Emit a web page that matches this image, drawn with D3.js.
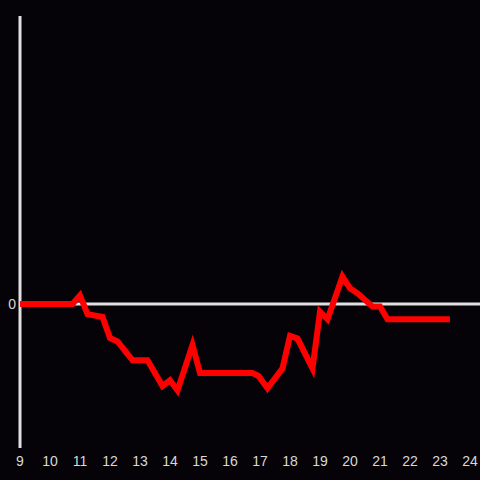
<!DOCTYPE html>
<meta charset="utf-8">
<style>
    body { margin: 0; background: #050307; overflow: hidden; }
    text { font-family: "Liberation Sans", Arial, sans-serif; font-size: 14px; fill: #d8d8d8; }
</style>
<svg id="canvas" width="480" height="480"></svg>
<script src="https://d3js.org/d3.v7.min.js"></script>
<script>

    // hour of day, relative value
    var hours  = [9, 10.75, 11, 11.25, 11.75, 12, 12.25, 12.75, 13.25, 13.75, 14, 14.25, 14.75, 15, 16.75, 16.95, 17.25, 17.75, 18, 18.25, 18.75, 19, 19.25, 19.75, 20, 20.25, 20.75, 21, 21.25, 23.33];
    var values = [0, 0, 0.06, -0.07, -0.09, -0.236, -0.26, -0.39, -0.39, -0.57, -0.53, -0.6, -0.285, -0.48, -0.48, -0.5, -0.585, -0.447, -0.222, -0.24, -0.447, -0.053, -0.106, 0.19, 0.109, 0.074, -0.018, -0.018, -0.106, -0.106];
    var xTicks = d3.range(9, 25);
    var yTicks = [0];

    var svg = d3.select("svg");
    svg.append("rect").attr("width", 480).attr("height", 480).attr("fill", "#050307");

    var x = d3.scaleLinear().domain([9, 24]).range([20, 470]);
    var y = d3.scaleLinear().domain([-1, 2]).range([448, 16]);

    // axis lines
    svg.append("line")
       .attr("x1", x(9)).attr("x2", x(9))
       .attr("y1", y(2)).attr("y2", y(-1))
       .attr("stroke", "#e0e0e0").attr("stroke-width", 3);

    svg.append("line")
       .attr("x1", x(9)).attr("x2", 480)
       .attr("y1", y(0)).attr("y2", y(0))
       .attr("stroke", "#e0e0e0").attr("stroke-width", 3);

    svg.append("g").selectAll("text")
       .data(xTicks)
       .enter().append("text")
       .attr("x", function(d) { return x(d); })
       .attr("y", 466)
       .attr("text-anchor", "middle")
       .text(function(d) { return d; });

    svg.append("g").selectAll("text")
       .data(yTicks)
       .enter().append("text")
       .attr("x", 16)
       .attr("y", function(d) { return y(d) + 5; })
       .attr("text-anchor", "end")
       .text(function(d) { return d; });

    var line = d3.line()
                 .x(function(d, i) { return x(hours[i]); })
                 .y(function(d) { return y(d); });

    svg.append("path")
       .datum(values)
       .attr("d", line)
       .attr("fill", "none")
       .attr("stroke", "#ff0000")
       .attr("stroke-width", 6)
       .attr("stroke-linejoin", "miter");

</script>
